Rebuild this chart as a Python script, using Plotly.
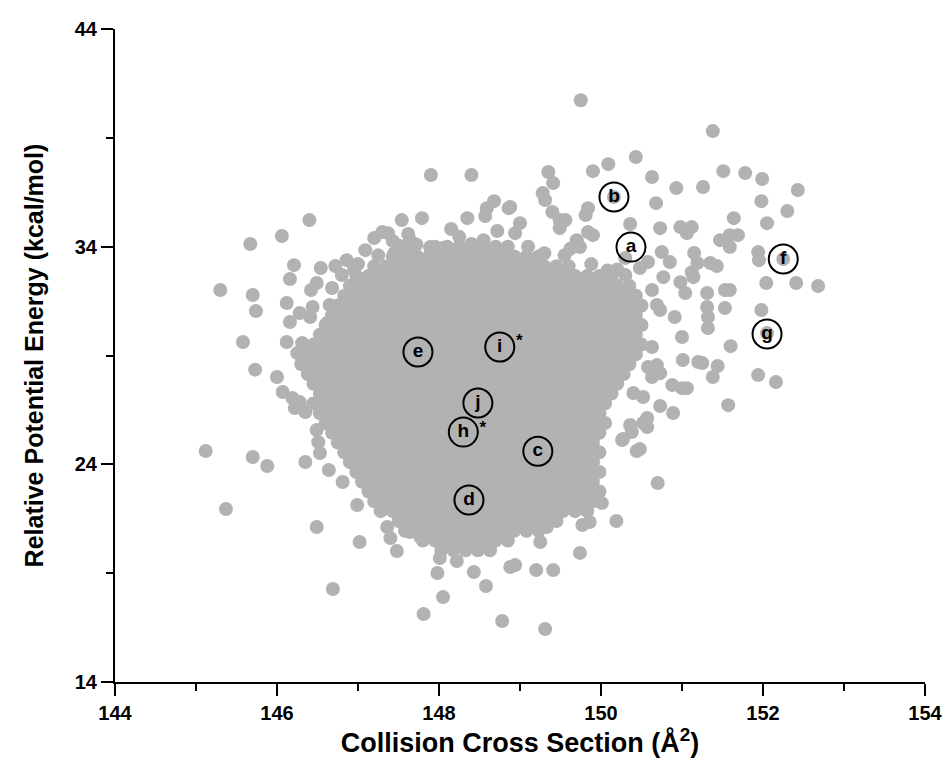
import plotly.graph_objects as go

# ---------------- data (x: collision cross section in A^2, y: relative potential energy in kcal/mol)
# individually readable conformers around the dense cloud
out_x = [149.75, 151.38, 150.43, 150.09, 149.90, 149.35, 149.41, 150.63, 150.93, 151.26, 151.51, 151.78,
         151.99, 152.43, 151.98, 152.30, 152.05, 151.64, 150.68, 149.28, 149.31, 149.40, 149.49, 149.56,
         149.49, 149.84, 149.81, 148.88, 149.00, 148.94, 150.36, 150.73, 150.98, 151.12, 151.06, 151.59,
         151.69, 151.47, 151.59, 151.94, 151.95, 152.25, 152.04, 152.41, 152.68, 151.98, 152.05, 151.60,
         151.25, 151.44, 151.38, 151.94, 152.16, 151.57, 151.31, 151.31, 151.32, 151.32, 151.53, 151.59,
         151.53, 151.35, 151.43, 151.15, 151.19, 151.12, 151.14, 150.91, 151.01, 151.20, 150.98, 151.04,
         150.69, 150.73, 151.00, 150.88, 151.00, 151.06, 150.89, 150.73, 150.57, 150.57, 150.36, 150.38,
         150.27, 150.48, 150.44, 150.70, 150.19, 150.01, 149.74, 149.20, 149.41, 148.88, 148.94, 149.31,
         148.78, 149.25, 149.33, 149.86, 149.77, 150.40, 150.52, 150.63, 150.69, 150.73, 150.26, 150.52,
         148.05, 147.81, 148.58, 148.43, 147.98, 148.01, 148.22, 146.69, 147.48, 147.02, 146.49, 147.40,
         147.36, 147.64, 147.77, 145.37, 145.12, 145.70, 145.88, 146.35, 146.64, 146.81, 146.49, 146.51,
         146.53, 146.99, 145.73, 146.00, 146.07, 146.19, 146.28, 146.35, 146.22, 145.58, 146.12, 146.31,
         146.25, 145.30, 145.70, 145.74, 146.12, 146.44, 146.65, 146.28, 146.16, 146.41, 146.62, 146.21,
         146.16, 146.49, 146.42, 145.67, 146.06, 146.40, 146.72, 146.54, 146.86, 147.09, 147.30, 147.37,
         147.43, 147.54, 147.79, 147.62, 147.64, 147.64, 147.90, 148.40, 148.86, 148.68, 148.59, 148.57,
         148.35, 148.15, 147.89, 148.05, 148.40, 148.72, 150.16, 149.84, 149.90, 149.70, 149.74, 150.75,
         150.85, 150.77, 150.63, 150.58, 150.30, 150.48, 150.63, 150.58,
         147.25, 147.00, 147.50, 147.72, 149.10, 149.30, 149.55, 149.88, 150.08, 150.30, 146.80, 146.68,
         147.20, 147.45, 148.25, 148.55, 149.15, 149.62, 150.20, 146.95]
out_y = [40.73, 39.31, 38.12, 37.79, 37.47, 37.43, 36.92, 37.20, 36.69, 36.74, 37.47, 37.38,
         37.11, 36.60, 36.09, 35.64, 35.08, 35.31, 36.00, 36.46, 36.14, 35.59, 35.22, 35.22,
         34.85, 35.77, 35.45, 35.82, 35.08, 34.62, 35.04, 34.85, 34.90, 34.90, 34.62, 34.53,
         34.53, 34.30, 33.98, 33.75, 33.38, 33.43, 32.33, 32.33, 32.19, 31.09, 30.03, 29.43,
         28.65, 28.52, 28.01, 28.10, 27.78, 26.72, 31.87, 31.23, 30.77, 30.26, 32.01, 32.01,
         31.18, 33.25, 33.11, 33.71, 33.25, 32.83, 32.60, 30.77, 28.79, 28.70, 32.37, 31.87,
         31.32, 31.09, 29.85, 27.64, 27.50, 27.50, 26.36, 26.68, 26.13, 25.71, 25.81, 25.48,
         25.16, 24.70, 24.61, 23.14, 21.40, 22.22, 19.93, 19.14, 19.14, 19.28, 19.37, 16.43,
         16.80, 20.43, 21.12, 21.35, 21.21, 27.28, 27.09, 28.01, 28.56, 28.19, 25.12, 25.90,
         17.90, 17.12, 18.41, 19.05, 19.01, 19.70, 19.56, 18.27, 20.02, 20.43, 21.12, 20.61,
         21.12, 20.89, 20.66, 21.95, 24.61, 24.34, 23.92, 24.11, 23.74, 23.19, 25.58, 25.02,
         24.52, 22.13, 28.35, 28.01, 27.32, 27.05, 26.86, 26.40, 26.59, 29.62, 29.62, 29.57,
         29.11, 32.01, 31.78, 31.04, 31.41, 31.23, 31.32, 30.95, 30.54, 30.77, 30.49, 33.15,
         32.51, 32.33, 32.01, 34.12, 34.49, 35.22, 33.11, 33.02, 33.38, 33.84, 34.67, 34.62,
         34.26, 35.22, 35.31, 34.58, 34.30, 33.84, 37.29, 37.29, 35.77, 36.09, 35.77, 35.41,
         35.31, 34.81, 33.98, 33.94, 34.12, 34.72, 36.28, 34.67, 34.53, 34.30, 33.98, 33.75,
         33.29, 32.60, 32.01, 33.29, 33.48, 33.02, 29.39, 28.47,
         33.60, 33.20, 34.05, 34.10, 34.00, 33.70, 33.60, 33.20, 32.90, 32.70, 32.70, 32.10,
         34.40, 33.70, 34.45, 34.30, 33.25, 33.90, 32.95, 32.95]

# dense, fully overlapping core of the cloud: column positions and row extents
core_cols_a = [146.30, 146.45, 146.60, 146.75, 146.90, 147.05, 147.20, 147.35, 147.50, 147.65,
               147.80, 147.95, 148.10, 148.25, 148.40, 148.55, 148.70, 148.85, 149.00, 149.15,
               149.30, 149.45, 149.60, 149.75, 149.90, 150.05, 150.20, 150.35, 150.50]
core_cols_b = [146.38, 146.53, 146.68, 146.83, 146.98, 147.13, 147.28, 147.43, 147.58, 147.73,
               147.88, 148.03, 148.18, 148.33, 148.48, 148.63, 148.78, 148.93, 149.08, 149.23,
               149.38, 149.53, 149.68, 149.83, 149.98, 150.13, 150.28, 150.43]
core_row_y = [34.00, 33.55, 33.10, 32.65, 32.20, 31.75, 31.30, 30.85, 30.40, 29.95, 29.50, 29.05,
              28.60, 28.15, 27.70, 27.25, 26.80, 26.35, 25.90, 25.45, 25.00, 24.55, 24.10, 23.65,
              23.20, 22.75, 22.30, 21.85, 21.40, 20.95, 20.50, 20.05]
core_row_left = [147.95, 147.40, 147.10, 146.95, 146.85, 146.75, 146.65, 146.63, 146.58, 146.52,
                 146.42, 146.36, 146.30, 146.36, 146.40, 146.45, 146.45, 146.50, 146.55, 146.65,
                 146.75, 146.82, 146.90, 146.97, 147.05, 147.12, 147.20, 147.28, 147.48, 147.56,
                 147.78, 148.00]
core_row_right = [148.85, 149.30, 149.70, 150.15, 150.40, 150.45, 150.50, 150.45, 150.50, 150.45,
                  150.50, 150.45, 150.38, 150.30, 150.25, 150.15, 150.10, 150.05, 150.05, 150.00,
                  149.95, 149.98, 149.92, 149.98, 149.92, 149.98, 149.90, 149.83, 149.50, 149.25,
                  148.90, 148.70]

# highlighted structures
lab_text = ["a", "b", "c", "d", "e", "f", "g", "h", "i", "j"]
lab_x = [150.37, 150.16, 149.22, 148.37, 147.74, 152.25, 152.05, 148.30, 148.75, 148.48]
lab_y = [33.98, 36.28, 24.60, 22.36, 29.16, 33.43, 29.99, 25.48, 29.39, 26.82]
star_x = [148.99, 148.54]
star_y = [29.62, 25.62]

x_ticks = [144, 146, 148, 150, 152, 154]
y_ticks = [14, 24, 34, 44]

# ---------------- build core table from the listed columns and extents
core_x, core_y = [], []
for i, yv in enumerate(core_row_y):
    cols = core_cols_a if i % 2 == 0 else core_cols_b
    for c in cols:
        if core_row_left[i] - 1e-9 <= c <= core_row_right[i] + 1e-9:
            core_x.append(c)
            core_y.append(yv)

GREY = "rgb(178,178,178)"
FONT = "Liberation Sans, Arial, sans-serif"

fig = go.Figure()
fig.add_trace(go.Scatter(x=core_x, y=core_y, mode="markers",
                         marker=dict(size=14, color=GREY, line=dict(width=0)),
                         hoverinfo="skip", showlegend=False))
fig.add_trace(go.Scatter(x=out_x, y=out_y, mode="markers",
                         marker=dict(size=14, color=GREY, line=dict(width=0)),
                         showlegend=False))
fig.add_trace(go.Scatter(x=lab_x, y=lab_y, mode="markers+text", text=lab_text,
                         textposition="middle center",
                         textfont=dict(family=FONT, size=19, color="black", weight="bold"),
                         marker=dict(symbol="circle-open", size=29, color="black",
                                     line=dict(width=2, color="black")),
                         showlegend=False))
fig.add_trace(go.Scatter(x=star_x, y=star_y, mode="text", text=["*", "*"],
                         textposition="middle center",
                         textfont=dict(family=FONT, size=17, color="black", weight="bold"),
                         showlegend=False))

axis_common = dict(showgrid=False, zeroline=False, showline=True, linecolor="black", linewidth=2,
                   ticks="outside", ticklen=12, tickwidth=2, tickcolor="black", automargin=False,
                   tickfont=dict(family=FONT, size=20, color="black", weight="bold"))

fig.update_layout(
    width=950, height=767,
    margin=dict(l=115, r=25, t=29, b=85),
    paper_bgcolor="white", plot_bgcolor="white",
    xaxis=dict(range=[144, 154], tickvals=x_ticks,
               minor=dict(dtick=1, tick0=144, ticks="outside", ticklen=7, tickwidth=2, tickcolor="black"),
               title=dict(text="Collision Cross Section (Å<sup>2</sup>)", standoff=10,
                          font=dict(family=FONT, size=27, color="black", weight="bold")),
               **axis_common),
    yaxis=dict(range=[14, 44], tickvals=y_ticks,
               minor=dict(dtick=5, tick0=14, ticks="outside", ticklen=7, tickwidth=2, tickcolor="black"),
               title=dict(text="Relative Potential Energy (kcal/mol)", standoff=24,
                          font=dict(family=FONT, size=25, color="black", weight="bold")),
               **axis_common),
)

fig.write_html("out.html")
